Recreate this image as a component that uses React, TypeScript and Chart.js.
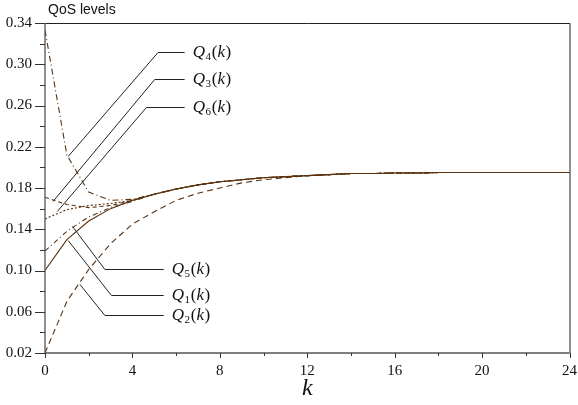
import React, { useEffect, useRef } from "react";
import { Chart, registerables } from "chart.js";

Chart.register(...registerables);

const K = [0, 1, 2, 3, 4, 5, 6, 7, 8, 9, 10, 11, 12, 13, 14, 15, 16, 17, 18, 19, 20, 21, 22, 23, 24];
const Q1 = [0.100, 0.130, 0.148, 0.160, 0.168, 0.174, 0.179, 0.183, 0.186, 0.188, 0.190, 0.191, 0.192, 0.193, 0.194, 0.194, 0.1945, 0.1945, 0.195, 0.195, 0.195, 0.195, 0.195, 0.195, 0.195];
const Q2 = [0.020, 0.070, 0.101, 0.126, 0.145, 0.157, 0.168, 0.175, 0.180, 0.185, 0.188, 0.190, 0.192, 0.193, 0.194, 0.194, 0.1945, 0.1945, 0.195, 0.195, 0.195, 0.195, 0.195, 0.195, 0.195];
const Q3 = [0.171, 0.164, 0.161, 0.163, 0.168, 0.174, 0.179, 0.183, 0.186, 0.188, 0.190, 0.191, 0.192, 0.193, 0.194, 0.194, 0.1945, 0.1945, 0.195, 0.195, 0.195, 0.195, 0.195, 0.195, 0.195];
const Q4 = [0.333, 0.212, 0.176, 0.168, 0.169, 0.174, 0.179, 0.183, 0.186, 0.188, 0.190, 0.191, 0.192, 0.193, 0.194, 0.194, 0.1945, 0.1945, 0.195, 0.195, 0.195, 0.195, 0.195, 0.195, 0.195];
const Q5 = [0.119, 0.138, 0.152, 0.161, 0.167, 0.174, 0.179, 0.183, 0.186, 0.188, 0.190, 0.191, 0.192, 0.193, 0.194, 0.194, 0.1945, 0.1945, 0.195, 0.195, 0.195, 0.195, 0.195, 0.195, 0.195];
const Q6 = [0.150, 0.159, 0.163, 0.165, 0.168, 0.174, 0.179, 0.183, 0.186, 0.188, 0.190, 0.191, 0.192, 0.193, 0.194, 0.194, 0.1945, 0.1945, 0.195, 0.195, 0.195, 0.195, 0.195, 0.195, 0.195];

const SERIES_NAMES = ["1", "2", "3", "4", "5", "6"];
const Y_MIN = 0.02;
const Y_MAX = 0.34;
const X_MIN = 0;
const X_MAX = 24;

// leader lines for the curve labels, in data units (k, value)
const LEADERS: { sub: string; pts: number[][] }[] = [
  { sub: "4", pts: [[1.06, 0.2106], [5.17, 0.3115], [6.39, 0.3115]] },
  { sub: "3", pts: [[0.365, 0.167], [5.02, 0.286], [6.39, 0.286]] },
  { sub: "6", pts: [[0.56, 0.1573], [4.64, 0.2585], [6.39, 0.2585]] },
  { sub: "5", pts: [[1.26, 0.1427], [2.74, 0.1014], [5.43, 0.1014]] },
  { sub: "1", pts: [[1.06, 0.1298], [3.04, 0.0758], [5.43, 0.0758]] },
  { sub: "2", pts: [[1.6, 0.0868], [2.74, 0.0564], [5.43, 0.0564]] },
];

const LINE_COLOR = "#5a3210";

export default function App() {
  const ref = useRef<HTMLCanvasElement | null>(null);

  useEffect(() => {
    document.body.style.margin = "0";
    const canvas = ref.current;
    if (!canvas) return;
    const series = [Q1, Q2, Q3, Q4, Q5, Q6];
    const dashes = [[], [6, 4], [4, 3], [6, 3, 1, 3], [5, 3, 1, 3], [2, 2]];

    const decor = {
      id: "decor",
      afterDraw(chart: any) {
        const ctx = chart.ctx;
        const a = chart.chartArea;
        const xs = chart.scales.x;
        const ys = chart.scales.y;
        ctx.save();
        // frame
        ctx.strokeStyle = "#222";
        ctx.lineWidth = 1;
        ctx.beginPath();
        ctx.moveTo(a.left + 0.5, a.top + 0.5);
        ctx.lineTo(a.right + 0.5, a.top + 0.5);
        ctx.lineTo(a.right + 0.5, a.bottom + 0.5);
        ctx.stroke();
        ctx.strokeStyle = "#555";
        ctx.lineWidth = 1.3;
        ctx.beginPath();
        ctx.moveTo(a.left, a.top);
        ctx.lineTo(a.left, a.bottom);
        ctx.lineTo(a.right, a.bottom);
        ctx.stroke();
        // ticks
        ctx.lineWidth = 1;
        ctx.strokeStyle = "#333";
        ys.ticks.forEach((t: any) => {
          const py = Math.round(ys.getPixelForValue(t.value)) + 0.5;
          const major = Math.round((t.value - Y_MIN) / 0.02) % 2 === 0;
          ctx.beginPath();
          ctx.moveTo(a.left - (major ? 10 : 5), py);
          ctx.lineTo(a.left, py);
          ctx.stroke();
        });
        xs.ticks.forEach((t: any) => {
          const px = Math.round(xs.getPixelForValue(t.value)) + 0.5;
          const major = Math.round(t.value) % 4 === 0;
          ctx.beginPath();
          ctx.moveTo(px, a.bottom);
          ctx.lineTo(px, a.bottom + (major ? 5 : 3));
          ctx.stroke();
        });
        // leader lines and labels
        ctx.strokeStyle = "#222";
        ctx.lineWidth = 1;
        LEADERS.forEach((l) => {
          ctx.beginPath();
          l.pts.forEach((p, i) => {
            const px = xs.getPixelForValue(p[0]);
            const py = Math.round(ys.getPixelForValue(p[1])) + 0.5;
            if (i === 0) ctx.moveTo(px, py);
            else ctx.lineTo(px, py);
          });
          ctx.stroke();
          const last = l.pts[l.pts.length - 1];
          let x = xs.getPixelForValue(last[0]) + 8;
          const y = ys.getPixelForValue(last[1]) + 5;
          ctx.fillStyle = "#111";
          ctx.textBaseline = "alphabetic";
          ctx.textAlign = "left";
          ctx.font = "italic 17px 'Liberation Serif', serif";
          ctx.fillText("Q", x, y);
          x += ctx.measureText("Q").width + 0.5;
          ctx.font = "11px 'Liberation Serif', serif";
          ctx.fillText(l.sub, x, y + 3);
          x += ctx.measureText(l.sub).width + 0.8;
          ctx.font = "17px 'Liberation Serif', serif";
          ctx.fillText("(", x, y);
          x += ctx.measureText("(").width;
          ctx.font = "italic 17px 'Liberation Serif', serif";
          ctx.fillText("k", x, y);
          x += ctx.measureText("k").width + 0.5;
          ctx.font = "17px 'Liberation Serif', serif";
          ctx.fillText(")", x, y);
        });
        // title and axis title
        ctx.fillStyle = "#111";
        ctx.font = "14px 'Liberation Sans', Arial, sans-serif";
        ctx.textAlign = "left";
        ctx.textBaseline = "middle";
        ctx.fillText("QoS levels", a.left + 3, 10);
        ctx.font = "italic 24px 'Liberation Serif', serif";
        ctx.textAlign = "center";
        ctx.textBaseline = "middle";
        ctx.fillText("k", (a.left + a.right) / 2, 389);
        ctx.restore();
      },
    };

    const chart = new Chart(canvas, {
      type: "line",
      data: {
        datasets: series.map((s, i) => ({
          label: "Q" + SERIES_NAMES[i],
          data: s.map((v, j) => ({ x: K[j], y: v })),
          borderColor: LINE_COLOR,
          borderWidth: 1.1,
          borderDash: dashes[i],
          pointRadius: 0,
          tension: 0,
          fill: false,
        })),
      },
      options: {
        animation: false,
        responsive: true,
        maintainAspectRatio: false,
        layout: { padding: { top: 23, right: 7, left: 0, bottom: 0 } },
        plugins: { legend: { display: false }, tooltip: { enabled: false } },
        scales: {
          x: {
            type: "linear",
            min: X_MIN,
            max: X_MAX,
            grid: { display: false },
            border: { display: false },
            ticks: {
              stepSize: 2,
              autoSkip: false,
              maxRotation: 0,
              padding: 1,
              color: "#111",
              font: { family: "'Liberation Serif', serif", size: 15 },
              callback: (v: any) => (Math.round(v) % 4 === 0 ? String(v) : ""),
            },
            afterFit: (s: any) => {
              s.height = 52;
            },
          },
          y: {
            min: Y_MIN,
            max: Y_MAX,
            grid: { display: false },
            border: { display: false },
            ticks: {
              stepSize: 0.02,
              autoSkip: false,
              padding: 5,
              color: "#111",
              font: { family: "'Liberation Serif', serif", size: 15 },
              callback: (v: any) =>
                Math.round((v - Y_MIN) / 0.02) % 2 === 0 ? Number(v).toFixed(2) : "",
            },
            afterFit: (s: any) => {
              s.width = 45;
            },
          },
        },
      },
      plugins: [decor],
    });
    return () => chart.destroy();
  }, []);

  return (
    <div style={{ width: 578, height: 405, position: "relative" }}>
      <canvas ref={ref} />
    </div>
  );
}
